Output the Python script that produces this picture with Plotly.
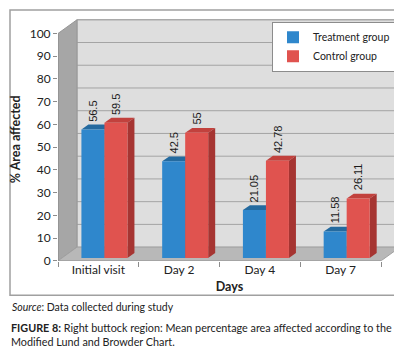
import plotly.graph_objects as go

# ---------------- data ----------------
categories = ["Initial visit", "Day 2", "Day 4", "Day 7"]
treatment = [56.5, 42.5, 21.05, 11.58]
control = [59.5, 55, 42.78, 26.11]
treatment_labels = ["56.5", "42.5", "21.05", "11.58"]
control_labels = ["59.5", "55", "42.78", "26.11"]
y_tick_vals = [0, 10, 20, 30, 40, 50, 60, 70, 80, 90, 100]
series_names = ["Treatment group", "Control group"]

# ---------------- layout geometry ----------------
W, H = 402, 351
PX_L, PX_R, PX_T, PX_B = 50, 393, 10, 258
X_RANGE = [-0.5, 3.7477]
Y_RANGE = [0, 106.9]
ppx = (PX_R - PX_L) / (X_RANGE[1] - X_RANGE[0])
ppy = (PX_B - PX_T) / (Y_RANGE[1] - Y_RANGE[0])
DX, DY = 19 / ppx, 14 / ppy          # wall depth
BDX, BDY = 7 / ppx, 5 / ppy          # bar depth
BASE = 3 / ppy                       # bars stand slightly back on the floor
BW = 0.285
OFFSETS = [-0.21, 0.075]

FRONT = ["#2f87cc", "#e0534f"]
TOP = ["#246a9f", "#c2413d"]
SIDE = ["#1f5a88", "#a63532"]

FONT = "Lato, 'Open Sans', sans-serif"
LABEL_FONT = "'Liberation Sans', Arial, sans-serif"


def path(pts):
    return "M " + " L ".join(f"{x},{y}" for x, y in pts) + " Z"


shapes = []
XL = X_RANGE[0]
XE = X_RANGE[1]
nc = len(categories)
# back wall
shapes.append(dict(type="rect", xref="x", yref="y", x0=XL + DX, x1=XE, y0=DY, y1=100 + DY,
                   fillcolor="#dedede", line=dict(color="#a8a8a8", width=1), layer="below"))
# gridlines on back wall
for v in y_tick_vals[1:]:
    shapes.append(dict(type="line", xref="x", yref="y", x0=XL + DX, x1=XE, y0=v + DY, y1=v + DY,
                       line=dict(color="#a4a4a4", width=1), layer="below"))
# side wall
shapes.append(dict(type="path", xref="x", yref="y",
                   path=path([(XL, 0), (XL + DX, DY), (XL + DX, 100 + DY), (XL, 100)]),
                   fillcolor="#a6a6a6", line=dict(color="#969696", width=1), layer="below"))
# floor
shapes.append(dict(type="path", xref="x", yref="y",
                   path=path([(XL, 0), (nc - 0.5, 0), (nc - 0.5 + DX, DY), (XL + DX, DY)]),
                   fillcolor="#b8b8b8", line=dict(color="#a0a0a0", width=1), layer="below"))
# axis lines (front edges)
shapes.append(dict(type="line", xref="x", yref="y", x0=XL, x1=XL, y0=0, y1=100,
                   line=dict(color="#8c8c8c", width=1), layer="below"))
shapes.append(dict(type="line", xref="x", yref="y", x0=XL, x1=nc - 0.5, y0=0, y1=0,
                   line=dict(color="#8c8c8c", width=1), layer="below"))

# 3D faces of bars
for s, vals in enumerate([treatment, control]):
    for i, v in enumerate(vals):
        x0 = i + OFFSETS[s]
        x1 = x0 + BW
        y0 = BASE
        y1 = BASE + v
        shapes.append(dict(type="path", xref="x", yref="y",
                           path=path([(x0, y1), (x1, y1), (x1 + BDX, y1 + BDY), (x0 + BDX, y1 + BDY)]),
                           fillcolor=TOP[s], line=dict(width=0), layer="below"))
        shapes.append(dict(type="path", xref="x", yref="y",
                           path=path([(x1, y0), (x1, y1), (x1 + BDX, y1 + BDY), (x1 + BDX, y0 + BDY)]),
                           fillcolor=SIDE[s], line=dict(width=0), layer="below"))

# outer frame
shapes.append(dict(type="rect", xref="paper", yref="paper",
                   x0=2 / W, x1=395 / W, y0=(H - 293) / H, y1=(H - 2) / H,
                   line=dict(color="#a0a0a0", width=1.5), fillcolor="rgba(0,0,0,0)", layer="below"))

fig = go.Figure()
for s, (vals, name) in enumerate(zip([treatment, control], series_names)):
    fig.add_trace(go.Bar(
        x=categories, y=vals, base=BASE, name=name,
        offset=OFFSETS[s], width=BW,
        marker=dict(color=FRONT[s], line=dict(width=0)),
    ))

annotations = []
for s, (vals, labels) in enumerate([(treatment, treatment_labels), (control, control_labels)]):
    for i, (v, lab) in enumerate(zip(vals, labels)):
        annotations.append(dict(
            x=i + OFFSETS[s] + BW / 2, y=BASE + v, xref="x", yref="y",
            text=lab, showarrow=False, textangle=-90,
            yanchor="bottom", xanchor="center", yshift=6,
            font=dict(family=LABEL_FONT, size=11, color="#1a1a1a"),
        ))

annotations.append(dict(
    x=2 / W, y=(H - 305) / H, xref="paper", yref="paper", xanchor="left", yanchor="middle",
    text="<i>Source</i>: Data collected during study", showarrow=False,
    font=dict(family=FONT, size=10.5, color="#222222"),
))
annotations.append(dict(
    x=1 / W, y=(H - 317) / H, xref="paper", yref="paper", xanchor="left", yanchor="top",
    align="left",
    text="<b>FIGURE 8:</b> Right buttock region: Mean percentage area affected according to the<br>Modified Lund and Browder Chart.",
    showarrow=False,
    font=dict(family=FONT, size=10.8, color="#222222"),
))

fig.update_layout(
    width=W, height=H, autosize=False,
    margin=dict(l=0, r=0, t=0, b=0),
    paper_bgcolor="white", plot_bgcolor="white",
    barmode="overlay",
    shapes=shapes, annotations=annotations,
    showlegend=True,
    legend=dict(x=388 / W, y=(H - 14) / H, xanchor="right", yanchor="top",
                bgcolor="white", bordercolor="#8c8c8c", borderwidth=1,
                font=dict(family=FONT, size=10.5, color="#222222"),
                tracegroupgap=0, itemwidth=30),
    xaxis=dict(domain=[PX_L / W, PX_R / W], range=X_RANGE, type="category",
               tickson="boundaries", ticks="outside", ticklen=5, tickcolor="#8c8c8c",
               showgrid=False, showline=False, zeroline=False,
               tickfont=dict(family=FONT, size=12, color="#222222"),
               title=dict(text="<b>Days</b>", standoff=6,
                          font=dict(family=FONT, size=12.5, color="#222222")),
               fixedrange=True),
    yaxis=dict(domain=[(H - PX_B) / H, (H - PX_T) / H], range=Y_RANGE,
               tickvals=y_tick_vals, ticks="outside", ticklen=4, tickcolor="#8c8c8c",
               showgrid=False, showline=False, zeroline=False,
               tickfont=dict(family=FONT, size=12, color="#222222"),
               title=dict(text="<b>% Area affected</b>", standoff=6,
                          font=dict(family=FONT, size=12.5, color="#222222")),
               fixedrange=True),
)

fig.write_html("out.html")
